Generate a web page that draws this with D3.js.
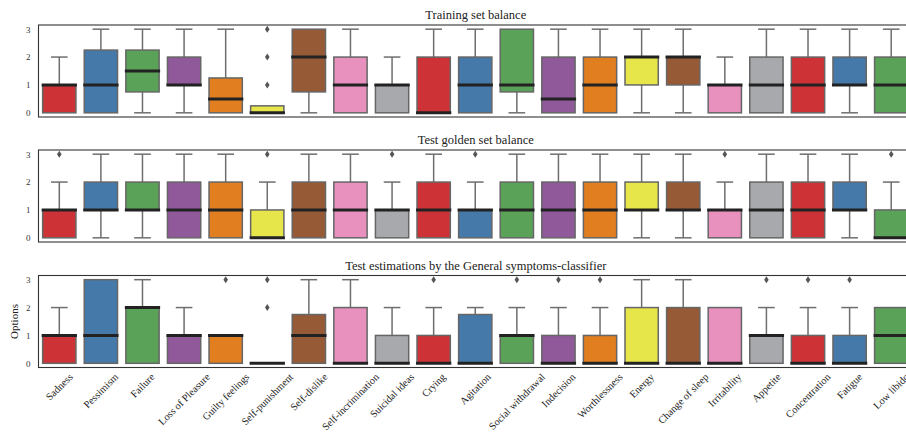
<!DOCTYPE html>
<html>
<head>
<meta charset="utf-8">
<script src="https://cdn.jsdelivr.net/npm/d3@7"></script>
<style>
  html, body { margin: 0; padding: 0; background: #fff; }
  svg { display: block; font-family: "Liberation Serif", "DejaVu Serif", serif; }
</style>
</head>
<body>
<svg id="chart" width="906" height="437"></svg>
<script>
// ---------- DATA ----------
const categories = ["Sadness","Pessimism","Failure","Loss of Pleasure","Guilty feelings","Self-punishment",
  "Self-dislike","Self-incrimination","Suicidal ideas","Crying","Agitation","Social withdrawal","Indecision",
  "Worthlessness","Energy","Change of sleep","Irritability","Appetite","Concentration","Fatigue","Low libido"];

const panelTitles = ["Training set balance", "Test golden set balance",
  "Test estimations by the General symptoms-classifier"];

const yTicks = [0, 1, 2, 3];

// [whiskerLow, q1, median, q3, whiskerHigh] per category
const trainStats = [
  [0,0,1,1,2],[0,0,1,2.25,3],[0,0.75,1.5,2.25,3],[0,1,1,2,3],[0,0,0.5,1.25,3],[0,0,0,0.25,0.25],
  [0,0.75,2,3,3],[0,0,1,2,3],[0,0,1,1,2],[0,0,0,2,3],[0,0,1,2,3],[0,0.75,1,3,3],[0,0,0.5,2,3],
  [0,0,1,2,3],[0,1,2,2,3],[0,1,2,2,3],[0,0,1,1,2],[0,0,1,2,3],[0,0,1,2,3],[0,1,1,2,3],[0,0,1,2,3]
];
const trainOutliers = [[],[],[],[],[],[1,2,3],[],[],[],[],[],[],[],[],[],[],[],[],[],[],[]];

const goldenStats = [
  [0,0,1,1,2],[0,1,1,2,3],[0,1,1,2,3],[0,0,1,2,3],[0,0,1,2,3],[0,0,0,1,2],
  [0,0,1,2,3],[0,0,1,2,3],[0,0,1,1,2],[0,0,1,2,3],[0,0,1,1,2],[0,0,1,2,3],[0,0,1,2,3],
  [0,0,1,2,3],[0,1,1,2,3],[0,1,1,2,3],[0,0,1,1,2],[0,0,1,2,3],[0,0,1,2,3],[0,1,1,2,3],[0,0,0,1,2]
];
const goldenOutliers = [[3],[],[],[],[],[3],[],[],[3],[],[3],[],[],[],[],[],[3],[],[],[],[3]];

const estimStats = [
  [0,0,1,1,2],[0,0,1,3,3],[0,0,2,2,3],[0,0,1,1,2],[0,0,1,1,1],[0,0,0,0,0],
  [0,0,1,1.75,3],[0,0,0,2,3],[0,0,0,1,2],[0,0,0,1,2],[0,0,0,1.75,2],[0,0,1,1,2],[0,0,0,1,2],
  [0,0,0,1,2],[0,0,0,2,3],[0,0,0,2,3],[0,0,0,2,2],[0,0,1,1,2],[0,0,0,1,2],[0,0,0,1,2],[0,0,1,2,2]
];
const estimOutliers = [[],[],[],[],[3],[2,3],[],[],[],[3],[],[3],[3],[3],[],[],[],[3],[3],[3],[]];

const palette = ["#cd3336","#4479aa","#59a257","#90599a","#e07e20","#e6e64a","#965a37","#e890be","#a8a9ac"];

// ---------- LAYOUT ----------
const svg = d3.select("#chart");
const left = 38.5, right = 912;
const panelTop = [25, 150, 275.5];
const panelH = 92;

const x = d3.scaleBand().domain(categories).range([left, right]).paddingInner(0.2).paddingOuter(0.1);
const color = d3.scaleOrdinal().domain(categories).range(palette);

const panels = [
  {stats: trainStats, outliers: trainOutliers},
  {stats: goldenStats, outliers: goldenOutliers},
  {stats: estimStats, outliers: estimOutliers}
];

panels.forEach((p, pi) => {
  const top = panelTop[pi];
  const y = d3.scaleLinear().domain([-0.15, 3.15]).range([top + panelH, top]);
  const g = svg.append("g");

  // title
  g.append("text")
    .attr("x", (left + right) / 2 + 0.5)
    .attr("y", top - 6)
    .attr("text-anchor", "middle")
    .attr("font-size", 12.5)
    .attr("fill", "#222")
    .text(panelTitles[pi]);

  // y axis
  const ya = g.append("g").attr("transform", `translate(${left},0)`)
    .call(d3.axisLeft(y).tickValues(yTicks).tickSize(0).tickPadding(8).tickFormat(d3.format("d")));
  ya.select(".domain").remove();
  ya.selectAll("text").attr("font-size", 9).attr("fill", "#333")
    .attr("font-family", "'Liberation Serif', serif");

  const bw = x.bandwidth();
  const boxes = g.selectAll(".box").data(categories).join("g").attr("class", "box");

  boxes.each(function(cat, i) {
    const s = p.stats[i];
    const [lo, q1, med, q3, hi] = s;
    const bx = x(cat), cx = bx + bw / 2;
    const sel = d3.select(this);
    const wcol = "#6e6e6e";
    // whiskers
    if (hi > q3) {
      sel.append("line").attr("x1", cx).attr("x2", cx).attr("y1", y(q3)).attr("y2", y(hi))
        .attr("stroke", wcol).attr("stroke-width", 1.5);
      sel.append("line").attr("x1", cx - bw / 4).attr("x2", cx + bw / 4).attr("y1", y(hi)).attr("y2", y(hi))
        .attr("stroke", wcol).attr("stroke-width", 1.5);
    }
    if (lo < q1) {
      sel.append("line").attr("x1", cx).attr("x2", cx).attr("y1", y(q1)).attr("y2", y(lo))
        .attr("stroke", wcol).attr("stroke-width", 1.5);
      sel.append("line").attr("x1", cx - bw / 4).attr("x2", cx + bw / 4).attr("y1", y(lo)).attr("y2", y(lo))
        .attr("stroke", wcol).attr("stroke-width", 1.5);
    }
    // box
    if (q3 > q1) {
      sel.append("rect").attr("x", bx).attr("width", bw)
        .attr("y", y(q3)).attr("height", y(q1) - y(q3))
        .attr("fill", color(cat)).attr("stroke", "#666").attr("stroke-width", 1.5);
    }
    // median
    sel.append("line").attr("x1", bx - 1).attr("x2", bx + bw + 1).attr("y1", y(med)).attr("y2", y(med))
      .attr("stroke", "#222").attr("stroke-width", 3);
    // outliers
    sel.selectAll("path.out").data(p.outliers[i]).join("path").attr("class", "out")
      .attr("d", v => `M${cx},${y(v) - 3.5} L${cx + 2.3},${y(v)} L${cx},${y(v) + 3.5} L${cx - 2.3},${y(v)} Z`)
      .attr("fill", "#555");
  });

  // frame
  g.append("rect").attr("x", left).attr("y", top).attr("width", right - left).attr("height", panelH)
    .attr("fill", "none").attr("stroke", "#333").attr("stroke-width", 1.1);

  // x axis labels only on bottom
  if (pi === 2) {
    const xa = g.append("g").attr("transform", `translate(0,${top + panelH})`)
      .call(d3.axisBottom(x).tickSize(0).tickPadding(0));
    xa.select(".domain").remove();
    xa.selectAll(".tick text").each(function(d) {
      const t = d3.select(this);
      const h = 10.3;
      t.attr("font-size", h).attr("fill", "#222")
        .attr("font-family", "'Liberation Serif', serif")
        .attr("dy", null).attr("y", 0).attr("text-anchor", "middle")
        .attr("dominant-baseline", "central");
      const L = this.getComputedTextLength();
      const off = (L * Math.SQRT1_2 + h * Math.SQRT1_2) / 2 + 4;
      t.attr("transform", `translate(0,${off}) rotate(-45)`);
    });
  }
});

// y label
svg.append("text")
  .attr("transform", `translate(18,${panelTop[2] + panelH / 2}) rotate(-90)`)
  .attr("text-anchor", "middle")
  .attr("font-size", 11)
  .attr("fill", "#222")
  .text("Options");
</script>
</body>
</html>
